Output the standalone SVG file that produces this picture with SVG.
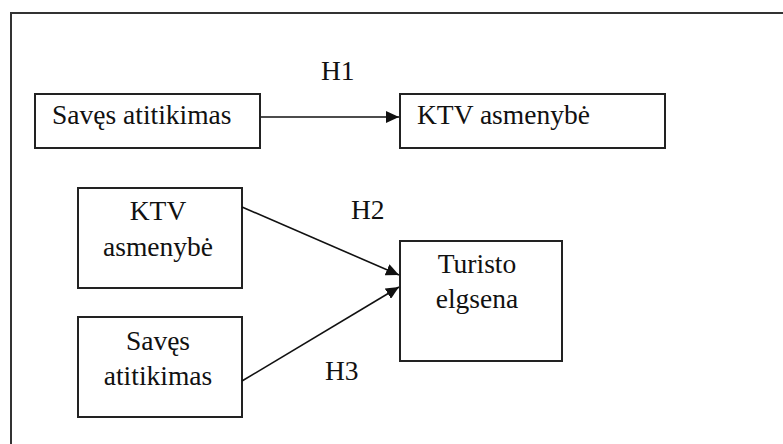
<svg xmlns="http://www.w3.org/2000/svg" width="783" height="444" viewBox="0 0 783 444">
<defs>
<style>
.box{fill:#fff;stroke:#222;stroke-width:2}
.t{font-family:'Liberation Serif','Times New Roman',serif;font-size:27.5px;fill:#111}
.m{text-anchor:middle}
.c{fill:none;stroke:#111;stroke-width:1.6}
</style>
<marker id="ah" markerUnits="userSpaceOnUse" markerWidth="14" markerHeight="12" refX="13" refY="6" orient="auto">
<path d="M0,0 L13,6 L0,12 z" fill="#111"/>
</marker>
</defs>
<rect width="783" height="444" fill="#fff"/>
<path d="M11,460 L11,13 L800,13" fill="none" stroke="#333" stroke-width="2"/>
<g id="n1"><rect class="box" x="35" y="94" width="225" height="54"/><text class="t" x="52" y="124" font-family="Liberation Serif, serif">Savęs atitikimas</text></g>
<g id="n2"><rect class="box" x="400" y="94" width="265" height="54"/><text class="t" x="417" y="124" font-family="Liberation Serif, serif">KTV asmenybė</text></g>
<g id="n3"><rect class="box" x="78" y="188" width="164" height="100"/><text class="t m" x="158" y="220" font-family="Liberation Serif, serif">KTV</text><text class="t m" x="158" y="256" font-family="Liberation Serif, serif">asmenybė</text></g>
<g id="n4"><rect class="box" x="78" y="317" width="164" height="100"/><text class="t m" x="158" y="350" font-family="Liberation Serif, serif">Savęs</text><text class="t m" x="158" y="385" font-family="Liberation Serif, serif">atitikimas</text></g>
<g id="n5"><rect class="box" x="400" y="241" width="162" height="120"/><text class="t m" x="477" y="273" font-family="Liberation Serif, serif">Turisto</text><text class="t m" x="477" y="308" font-family="Liberation Serif, serif">elgsena</text></g>
<g id="connectors">
<line class="c" x1="261" y1="117" x2="399" y2="117" marker-end="url(#ah)"/>
<line class="c" x1="242" y1="207" x2="399" y2="275" marker-end="url(#ah)"/>
<line class="c" x1="242" y1="381" x2="399" y2="287" marker-end="url(#ah)"/>
<text class="t" x="321" y="80" font-family="Liberation Serif, serif">H1</text>
<text class="t" x="351" y="219" font-family="Liberation Serif, serif">H2</text>
<text class="t" x="325" y="380" font-family="Liberation Serif, serif">H3</text>
</g>
</svg>
